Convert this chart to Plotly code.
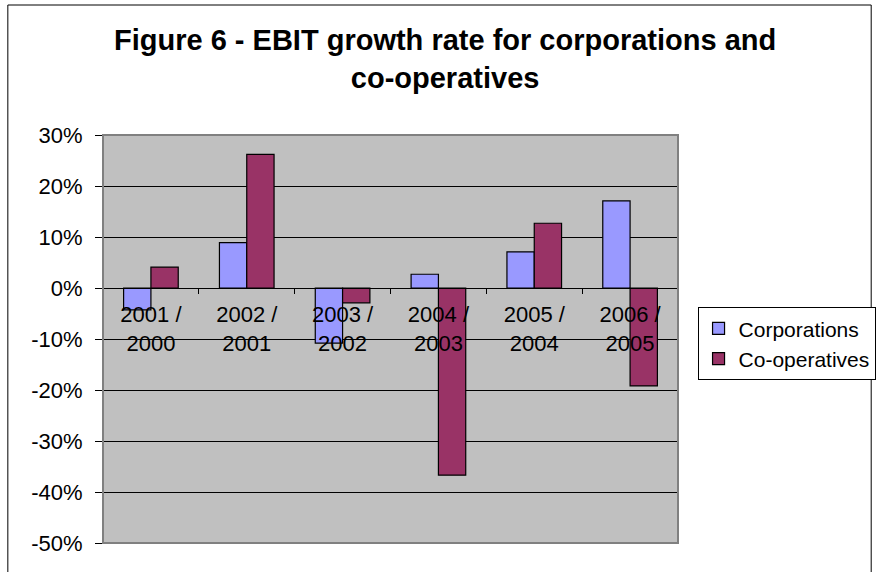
import plotly.graph_objects as go

# EBIT growth rate (%)
PERIODS = ["2001 /<br>2000", "2002 /<br>2001", "2003 /<br>2002",
           "2004 /<br>2003", "2005 /<br>2004", "2006 /<br>2005"]
CORPORATIONS = [-4.3, 8.9, -10.8, 2.7, 7.1, 17.1]
COOPERATIVES = [4.1, 26.2, -2.9, -36.7, 12.7, -19.2]
Y_TICKS = [30, 20, 10, 0, -10, -20, -30, -40, -50]
Y_LABELS = [f"{v}%" for v in Y_TICKS]

FONT = "Liberation Sans, Arial, sans-serif"
Y_MIN, Y_MAX = -50, 30

fig = go.Figure()
for name, vals, color in (
    ("Corporations", CORPORATIONS, "#9999FF"),
    ("Co-operatives", COOPERATIVES, "#993366"),
):
    fig.add_trace(go.Bar(
        x=PERIODS, y=vals, name=name,
        marker=dict(color=color, line=dict(color="black", width=1.2)),
    ))

zero_pos = (0 - Y_MIN) / (Y_MAX - Y_MIN)

fig.update_layout(
    width=888, height=572,
    margin=dict(l=103, r=199, t=135, b=29),
    paper_bgcolor="white", plot_bgcolor="#C0C0C0",
    font=dict(family=FONT, size=22, color="black"),
    barmode="group", bargap=0.43, bargroupgap=0,
    showlegend=True,
    legend=dict(
        x=1.034, y=0.578, xanchor="left", yanchor="top",
        bgcolor="white", bordercolor="black", borderwidth=1,
        font=dict(size=21), tracegroupgap=0,
    ),
    xaxis=dict(
        anchor="free", position=zero_pos,
        showline=True, linecolor="black", linewidth=1,
        ticks="outside", tickson="boundaries", ticklen=5,
        tickcolor="black", showgrid=False,
        tickfont=dict(size=22), ticklabelstandoff=7,
    ),
    yaxis=dict(
        range=[Y_MIN, Y_MAX], tickvals=Y_TICKS, ticktext=Y_LABELS,
        showline=True, linecolor="black", linewidth=1,
        ticks="outside", ticklen=7, tickcolor="black",
        showgrid=True, gridcolor="black", gridwidth=1,
        zeroline=False, tickfont=dict(size=22), ticklabelstandoff=8,
    ),
    annotations=[dict(
        text="<b>Figure 6 - EBIT growth rate for corporations and<br>"
             "co-operatives</b>",
        xref="paper", yref="paper", x=0.595, y=1.278,
        xanchor="center", yanchor="top", showarrow=False,
        font=dict(size=29, family=FONT),
    )],
    shapes=[
        # grey frame round the plot area
        dict(type="rect", xref="paper", yref="paper", x0=0, x1=1, y0=0, y1=1,
             line=dict(color="#808080", width=2), layer="above"),
        # outer chart border
        dict(type="rect", xref="paper", yref="paper",
             x0=-0.1655, x1=1.336, y0=-0.2, y1=1.3186,
             line=dict(color="black", width=1), layer="below"),
    ],
)

fig.write_html("out.html", config={"displayModeBar": False},
               post_script="document.body.style.margin='0';")
